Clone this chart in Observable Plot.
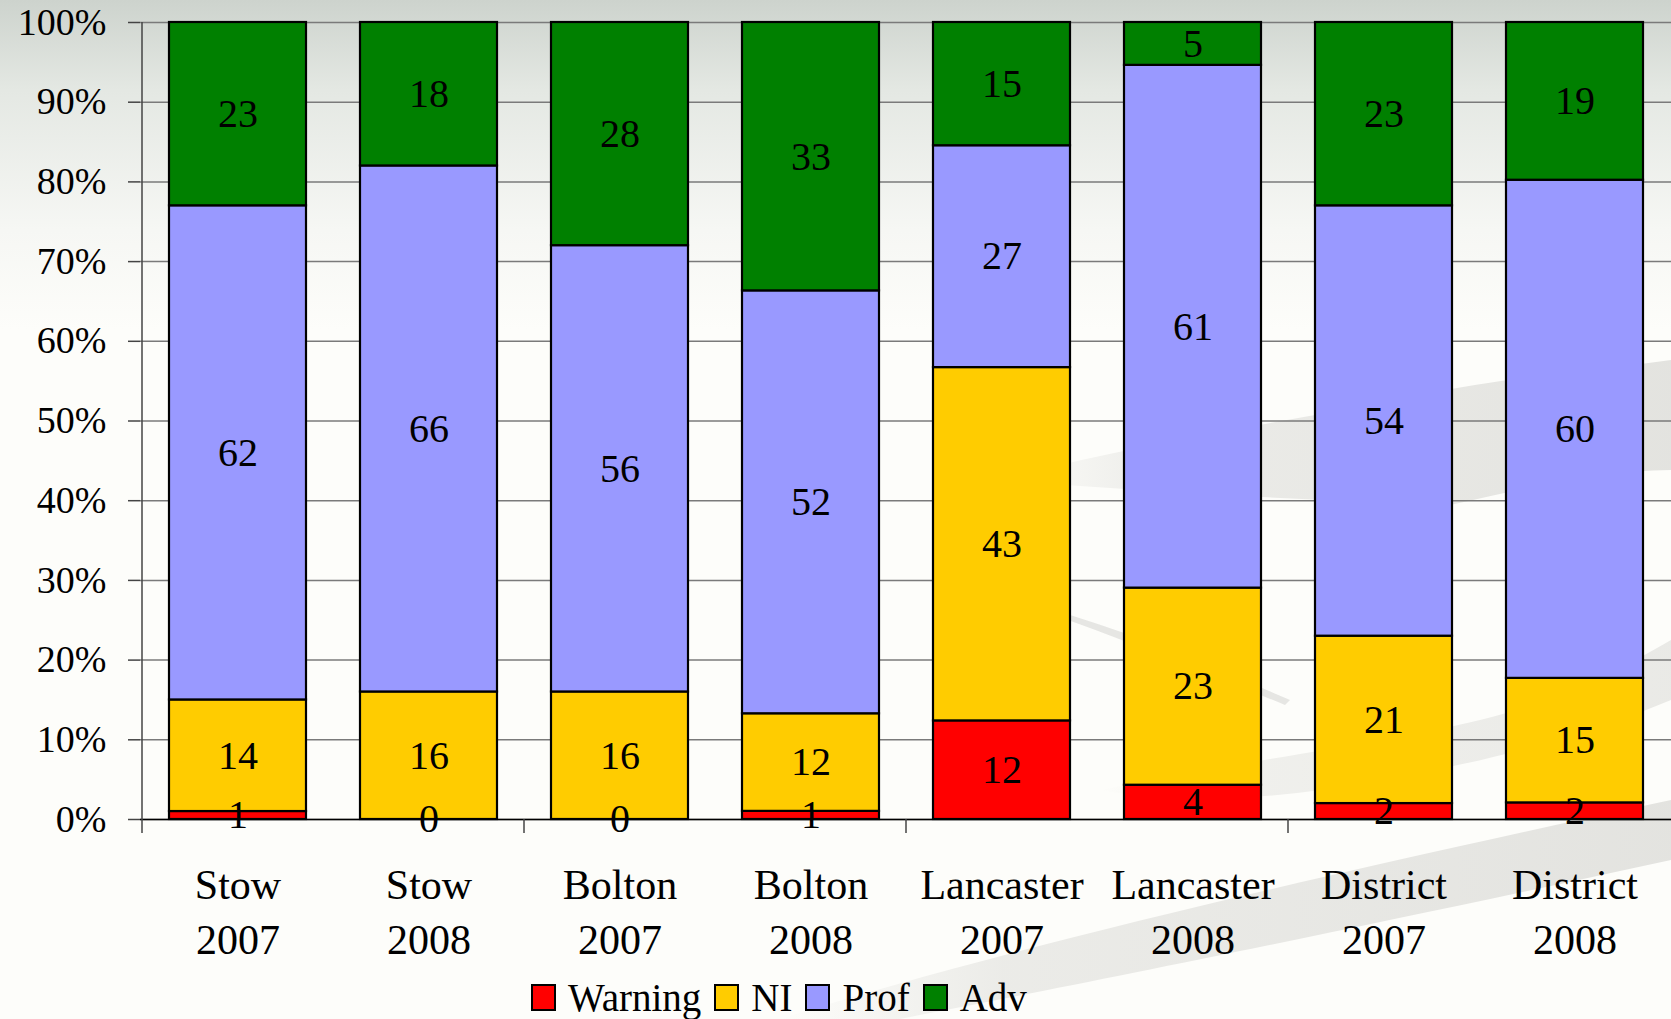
<!DOCTYPE html>
<html>
<head>
<meta charset="utf-8">
<script src="https://cdn.jsdelivr.net/npm/d3@7"></script>
<script src="https://cdn.jsdelivr.net/npm/@observablehq/plot@0.6"></script>
<style>
  html, body { margin: 0; padding: 0; }
  body { width: 1671px; height: 1019px; overflow: hidden; font-family: "Liberation Serif", serif; }
  #wrap { position: relative; width: 1671px; height: 1019px;
    background: linear-gradient(to bottom, #cdd3cd 0px, #e4e8e3 90px, #f6f7f4 230px, #fdfdfa 330px, #fdfdfa 100%); }
  #bg { position: absolute; left: 0; top: 0; }
  #chart { position: absolute; left: 0; top: 0; }
  #legend { position: absolute; left: 531px; top: 972px; height: 50px; display: flex; align-items: center;
    font-size: 39px; color: #000; white-space: nowrap; }
  .sw { display: inline-block; width: 21px; height: 23px; border: 2px solid #000; margin-right: 12px; }
  .it { display: flex; align-items: center; margin-right: 13px; }
</style>
</head>
<body>
<div id="wrap">
  <svg id="bg" width="1671" height="1019">
    <defs>
      <linearGradient id="g1" x1="0" y1="0" x2="1" y2="0">
        <stop offset="0" stop-color="#d8d8d4" stop-opacity="0"/>
        <stop offset="0.25" stop-color="#d8d8d4" stop-opacity="0.8"/>
        <stop offset="1" stop-color="#d2d2ce" stop-opacity="1"/>
      </linearGradient>
    </defs>
    <path d="M1000,480 C1150,440 1300,420 1420,395 C1520,375 1600,370 1671,360 L1671,470 C1600,470 1520,490 1450,505 C1300,500 1150,492 1000,480 Z" fill="url(#g1)" opacity="0.6"/>
    <path d="M1070,615 C1150,640 1220,670 1290,700 L1285,705 C1215,676 1145,648 1068,620 Z" fill="#dcdcd8" opacity="0.7"/>
    <path d="M780,1019 C1000,950 1300,880 1671,800 L1671,860 C1350,930 1050,990 900,1019 Z" fill="url(#g1)" opacity="0.6"/>
    <path d="M1100,790 C1250,760 1400,740 1480,720 C1560,700 1620,670 1671,640 L1671,700 C1600,730 1500,760 1380,780 C1280,800 1180,805 1100,790 Z" fill="url(#g1)" opacity="0.45"/>
  </svg>
  <div id="chart"></div>
  <div id="legend"></div>
</div>
<script>
const categories = ["Stow 2007", "Stow 2008", "Bolton 2007", "Bolton 2008", "Lancaster 2007", "Lancaster 2008", "District 2007", "District 2008"];
const levels = ["Warning", "NI", "Prof", "Adv"];
const warning = [1, 0, 0, 1, 12, 4, 2, 2];
const ni = [14, 16, 16, 12, 43, 23, 21, 15];
const prof = [62, 66, 56, 52, 27, 61, 54, 60];
const adv = [23, 18, 28, 33, 15, 5, 23, 19];
const colors = ["#ff0000", "#ffcc00", "#9999ff", "#008000"];
const yTicks = [0, 0.1, 0.2, 0.3, 0.4, 0.5, 0.6, 0.7, 0.8, 0.9, 1];
const yTickLabels = ["0%", "10%", "20%", "30%", "40%", "50%", "60%", "70%", "80%", "90%", "100%"];

const series = [warning, ni, prof, adv];
const data = [];
categories.forEach((cat, i) => {
  levels.forEach((lev, j) => data.push({cat, level: lev, value: series[j][i]}));
});

const plot = Plot.plot({
  width: 1671,
  height: 970,
  marginLeft: 140,
  marginRight: 0,
  marginTop: 22,
  marginBottom: 151,
  x: {domain: categories, paddingInner: 0.284, paddingOuter: 0.142, axis: null},
  y: {domain: [0, 1], axis: null},
  color: {domain: levels, range: colors},
  style: {fontFamily: "'Liberation Serif', serif", background: "transparent", overflow: "visible", color: "#000"},
  marks: [
    Plot.gridY(yTicks, {stroke: "#7a7a7a", strokeOpacity: 1, strokeWidth: 1.5}),
    Plot.barY(data, Plot.stackY({offset: "normalize", x: "cat", y: "value", z: "level", fill: "level", stroke: "#000", strokeWidth: 2.2})),
    Plot.ruleY([0], {stroke: "#000", strokeWidth: 1.5}),
    Plot.text(data, Plot.stackY({offset: "normalize", x: "cat", y: "value", z: "level", text: "value", fontSize: 40, fill: "#000"})),
    Plot.axisY(yTicks, {label: null, tickSize: 12, tickPadding: 22, tickFormat: (d, i) => yTickLabels[i], fontSize: 38, stroke: "#444", strokeWidth: 1.5}),
    Plot.axisX({label: null, tickSize: 0, tickPadding: 40, tickFormat: d => d.replace(" ", "\n"), fontSize: 42, lineHeight: 1.31})
  ]
});
document.getElementById("chart").appendChild(plot);

// axis line and category-pair tick marks, positioned through the plot's x scale
const xs = plot.scale("x");
const ys = plot.scale("y");
const gap = (xs.step - xs.bandwidth) / 2;
const yTop = ys.apply(1), yZero = ys.apply(0);
const svg = d3.select(plot);
const g = svg.append("g").attr("stroke", "#444").attr("stroke-width", 1.5);
[0, 2, 4, 6].forEach(i => {
  const x = xs.apply(categories[i]) - gap;
  g.append("line").attr("x1", x).attr("x2", x)
    .attr("y1", i === 0 ? yTop : yZero).attr("y2", yZero + 14);
});

// legend
const legend = d3.select("#legend");
levels.forEach((lev, i) => {
  const it = legend.append("div").attr("class", "it");
  it.append("span").attr("class", "sw").style("background", colors[i]);
  it.append("span").text(lev);
});
</script>
</body>
</html>
